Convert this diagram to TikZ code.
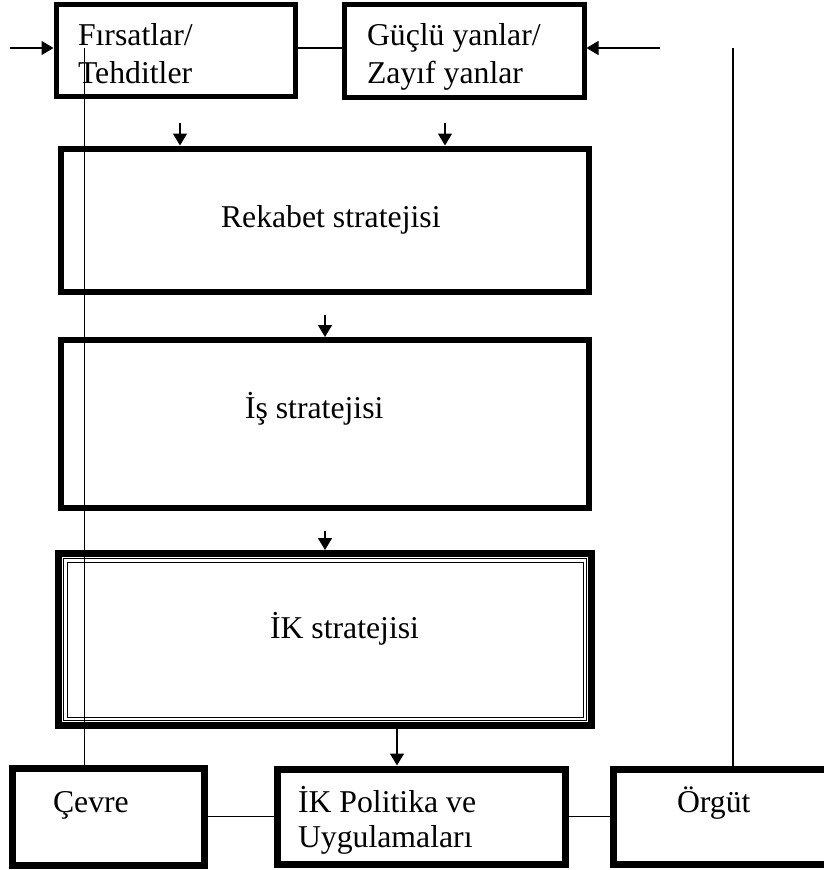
\documentclass[tikz,border=0pt]{standalone}
\usepackage{fontspec}
\setmainfont{Liberation Serif}
\usetikzlibrary{arrows.meta}
\newcommand\twolines[2]{\vtop{\hbox{#1}\hbox{#2}}}
\begin{document}
\begin{tikzpicture}[x=1pt,y=-1pt,
  box/.style={draw, inner sep=0pt, outer sep=auto, rectangle},
  lbl/.style={anchor=base west, inner sep=0pt, outer sep=0pt, font=\fontsize{31.75}{38}\selectfont},
  lblb/.style={anchor=base west, inner sep=0pt, outer sep=0pt, font=\fontsize{31.75}{35}\selectfont},
  conn/.style={line width=1.5pt},
  arr/.style={line width=1.5pt, -{Triangle[length=12pt,width=14pt]}},
  thinframe/.style={line width=0.9pt}
]
\useasboundingbox (0,0) rectangle (824,870);
\clip (0,0) rectangle (824,870);

% boxes
\node[box, line width=5pt, minimum width=239.5pt, minimum height=91.5pt] (F) at (175.75,50.25) {};
\node[box, line width=5pt, minimum width=239.5pt, minimum height=92.5pt] (G) at (464.25,50.75) {};
\node[box, line width=6pt, minimum width=528pt, minimum height=143.5pt] (R) at (325,220.25) {};
\node[box, line width=6pt, minimum width=528pt, minimum height=168pt] (I) at (325,424) {};
\node[box, line width=7pt, minimum width=533pt, minimum height=172pt] (K) at (325,639.5) {};
\node[box, line width=7pt, minimum width=192pt, minimum height=97pt] (C) at (108,816.5) {};
\node[box, line width=7pt, minimum width=288pt, minimum height=95pt] (P) at (421,816.5) {};
\node[box, line width=7pt, minimum width=257pt, minimum height=95pt] (O) at (741.5,816.5) {};

% inner thin frames of the IK strategy box
\draw[thinframe] (63.5,558.5) rectangle (586.5,720.5);
\draw[thinframe] (67,562) rectangle (583,717);

% texts
\node[lbl] (Ft) at (78,45) {\twolines{Fırsatlar/}{Tehditler}};
\node[lbl] (Gt) at (367,45) {\twolines{Güçlü yanlar/}{Zayıf yanlar}};
\node[lbl] (Rt) at (221,227) {Rekabet stratejisi};
\node[lbl] (It) at (245,418) {İş stratejisi};
\node[lbl] (Kt) at (270,638) {İK stratejisi};
\node[lbl] (Ct) at (53,812) {Çevre};
\node[lblb] (Pt) at (298,812) {\twolines{İK Politika ve}{Uygulamaları}};
\node[lbl] (Ot) at (677,812) {Örgüt};

% helper coordinates
\coordinate (top) at (0,48);
\coordinate (lin) at (10,48);
\coordinate (rin) at (660,48);
\coordinate (lv) at (84.5,48);
\coordinate (rv) at (733,48);
\coordinate (a1) at (180,123);
\coordinate (a2) at (445,123);
\coordinate (a3) at (325,315);
\coordinate (a4) at (325,531);
\coordinate (a5) at (397,0);

% connectors
\draw[conn] (F.east |- top) -- (G.west |- top);
\draw[arr] (lin) -- (F.west |- lin);
\draw[arr] (rin) -- (G.east |- rin);
\draw[conn] (lv) -- (C.north -| lv);
\draw[conn] (rv) -- (O.north -| rv);
\draw[arr] (a1) -- (R.north -| a1);
\draw[arr] (a2) -- (R.north -| a2);
\draw[arr] (a3) -- (I.north -| a3);
\draw[arr] (a4) -- (K.north -| a4);
\draw[arr] (K.south -| a5) -- (P.north -| a5);
\draw[conn] (C) -- (P);
\draw[conn] (P) -- (O);
\end{tikzpicture}
\end{document}
